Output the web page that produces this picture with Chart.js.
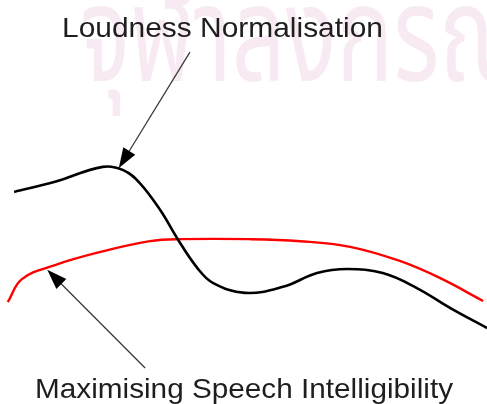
<!DOCTYPE html>
<html>
<head>
<meta charset="utf-8">
<script src="https://cdn.jsdelivr.net/npm/chart.js@4.4.1/dist/chart.umd.min.js"></script>
<style>
  html, body { margin: 0; padding: 0; background: #fff; }
  canvas { display: block; }
</style>
</head>
<body>
<canvas id="curves" width="487" height="404"></canvas>
<script>
// x: position along the axis (0-100), y: relative level (0-100)
const loudnessX = [2.9, 11.3, 21.1, 25.3, 28.7, 32.9, 36.6, 40.5, 43.7, 50.3, 58.1, 65.1, 71.3, 78.6, 85.6, 92.4, 100];
const loudnessY = [52.5, 55.0, 58.7, 57.9, 54.7, 48.0, 40.6, 33.7, 30.0, 27.5, 29.0, 32.4, 33.4, 32.4, 28.7, 23.8, 18.8];

const speechX = [1.6, 4.5, 11.3, 20.5, 30.8, 37.0, 51.3, 61.6, 71.9, 82.1, 90.3, 99.2];
const speechY = [25.2, 30.9, 34.4, 37.6, 40.3, 40.8, 40.8, 40.3, 38.9, 35.4, 31.2, 25.5];

// annotation: text, arrow tail (x, y) and arrow tip (x, y) in data units
const labels = ['Loudness Normalisation', 'Maximising Speech Intelligibility'];
const arrowTail = [[39.0, 87.1], [29.8, 8.9]];
const arrowTip = [[24.4, 58.4], [9.7, 33.2]];

const watermark = 'จุฬาลงกรณ์มหาวิทยาลัย';

function toPoints(xs, ys) {
    return xs.map((x, i) => ({ x: x, y: ys[i] }));
}

const annotations = {
    id: 'annotations',
    beforeDatasetsDraw(chart) {
        const ctx = chart.ctx;
        ctx.save();
        ctx.fillStyle = '#f8eaf3';
        ctx.font = '135px "Noto Sans Thai", "Loma", "Garuda", "Norasi", sans-serif';
        ctx.textBaseline = 'alphabetic';
        ctx.translate(80, 81);
        ctx.scale(0.7, 1);
        ctx.fillText(watermark, 0, 0);
        ctx.restore();
    },
    afterDatasetsDraw(chart) {
        const ctx = chart.ctx;
        const xs = chart.scales.x;
        const ys = chart.scales.y;

        ctx.save();
        arrowTail.forEach((tail, i) => {
            const x0 = xs.getPixelForValue(tail[0]);
            const y0 = ys.getPixelForValue(tail[1]);
            const x1 = xs.getPixelForValue(arrowTip[i][0]);
            const y1 = ys.getPixelForValue(arrowTip[i][1]);
            const ang = Math.atan2(y1 - y0, x1 - x0);
            const len = 20, half = 7;

            // shaft stops at the base of the head
            ctx.strokeStyle = '#3a3a3a';
            ctx.lineWidth = 1.3;
            ctx.beginPath();
            ctx.moveTo(x0, y0);
            ctx.lineTo(x1 - Math.cos(ang) * len, y1 - Math.sin(ang) * len);
            ctx.stroke();

            ctx.fillStyle = '#000';
            ctx.beginPath();
            ctx.moveTo(x1, y1);
            ctx.lineTo(x1 - Math.cos(ang) * len - Math.sin(ang) * half, y1 - Math.sin(ang) * len + Math.cos(ang) * half);
            ctx.lineTo(x1 - Math.cos(ang) * len + Math.sin(ang) * half, y1 - Math.sin(ang) * len - Math.cos(ang) * half);
            ctx.closePath();
            ctx.fill();
        });

        // captions, stretched slightly wider than the font
        const spots = [[62, 37, 321], [35, 398, 418]];
        ctx.fillStyle = '#1e1e1e';
        ctx.font = '28px "Liberation Sans", Arial, sans-serif';
        ctx.textBaseline = 'alphabetic';
        labels.forEach((text, i) => {
            const [left, base, width] = spots[i];
            const w = ctx.measureText(text).width;
            ctx.save();
            ctx.translate(left, base);
            ctx.scale(width / w, 1);
            ctx.fillText(text, 0, 0);
            ctx.restore();
        });
        ctx.restore();
    }
};

new Chart(document.getElementById('curves'), {
    type: 'line',
    data: {
        datasets: [{
            label: labels[0],
            data: toPoints(loudnessX, loudnessY),
            borderColor: '#000000',
            borderWidth: 2.6,
            tension: 0.4,
            pointRadius: 0,
            fill: false
        }, {
            label: labels[1],
            data: toPoints(speechX, speechY),
            borderColor: '#ff0000',
            borderWidth: 2.4,
            tension: 0.4,
            pointRadius: 0,
            fill: false
        }]
    },
    options: {
        responsive: false,
        animation: false,
        devicePixelRatio: 1,
        layout: { padding: 0 },
        scales: {
            x: { type: 'linear', min: 0, max: 100, display: false },
            y: { type: 'linear', min: 0, max: 100, display: false }
        },
        plugins: {
            legend: { display: false },
            tooltip: { enabled: false }
        }
    },
    plugins: [annotations]
});
</script>
</body>
</html>
